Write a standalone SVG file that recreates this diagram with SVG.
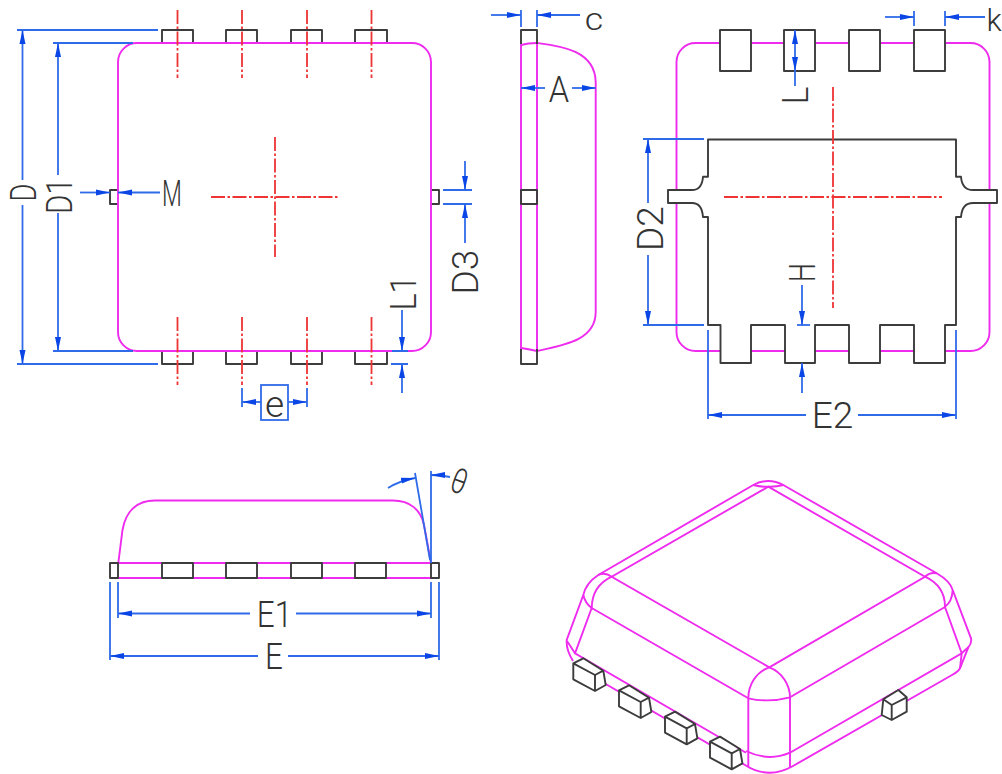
<svg xmlns="http://www.w3.org/2000/svg" xmlns:xlink="http://www.w3.org/1999/xlink" width="1002" height="774" viewBox="0 0 1002 774">
<defs>
<marker id="ah" viewBox="0 0 14 7" refX="14" refY="3.500" markerWidth="14" markerHeight="7" orient="auto-start-reverse" markerUnits="userSpaceOnUse"><path d="M0,0.500 L14,3.500 L0,6.500 Z" fill="#0a46e6"/></marker>
<path id="pad" class="k" d="M573.300,663.300L583.300,658.300L603.300,670.700L605.700,685L595,691L573.300,679.300ZM573.300,663.300L595,675L603.300,670.700M595,675V691"/>
</defs>
<style>
.m{fill:none;stroke:#ee2bee;stroke-width:1.9}
.k{fill:#fff;stroke:#3c3c3c;stroke-width:1.9;stroke-linejoin:round}
.n{fill:none;stroke:#3c3c3c;stroke-width:1.9;stroke-linejoin:round}
.r{fill:none;stroke:#ee3434;stroke-width:1.8;stroke-dasharray:14 2.500 2.500 2.500}
.b{fill:none;stroke:#2f6be8;stroke-width:1.8}
.a{marker-end:url(#ah)}
.t{font-family:Roboto,"Liberation Sans",Arial,sans-serif;font-weight:300;font-size:37px;fill:#333;text-anchor:middle}
.s{font-size:31px}
</style>
<rect width="1002" height="774" fill="#fff"/>
<g id="top-view">
<path class="n" d="M162,43V30H193V43M226,43V30H257V43M291,43V30H322V43M355,43V30H387V43"/>
<path class="n" d="M162,351V364H193V351M226,351V364H257V351M291,351V364H322V351M355,351V364H387V351"/>
<path class="n" d="M118,190H110V204H118M431,190H439V204H431"/>
<rect class="m" x="118" y="43" width="313" height="308" rx="19"/>
<path class="r" d="M177.500,10V78M242,10V78M307,10V78M371.500,10V78M177.500,317V385M242,317V385M307,317V385M371.500,317V385M211,197H338M275,137V257"/>
</g>
<g id="side-view">
<path class="m" d="M521,44V349M537,43V351"/>
<path class="m" d="M521,45Q528,43 537,43C560,46 595,50 595.700,82V312C595.700,340 565,345 537,351Q528,349 521,348"/>
<path class="n" d="M521,44V30H537V44M521,349V364H537V349"/>
<rect class="n" x="521" y="190" width="16" height="14"/>
</g>
<g id="bottom-view">
<rect class="m" x="676.500" y="43" width="313" height="308" rx="19"/>
<path class="k" d="M720,30H751V71H720ZM784,30H815V71H784ZM849,30H880V71H849ZM914,30H945V71H914Z"/>
<path class="k" d="M708,139.500H956V176.700H961Q962,190 973,190H997V203H973Q962,203 961,217H956V325H945V363H914V325H880V363H849V325H815V363H785V325H751V363H720.500V325H708V217H703Q702,203 692,203H668V190H692Q702,190 703,176.700H708Z"/>
<path class="r" d="M724,197H942M833,87V308"/>
</g>
<g id="front-view">
<path class="m" d="M118,563H431M118,578H431"/>
<path class="m" d="M118.300,563L122.500,530C126,510 138,500.500 155,500.500H393C410,500.500 421,510 424,525L431,563"/>
<path class="n" d="M110,563H118V578H110ZM431,563H439V578H431ZM162,563H193V578H162ZM226,563H257V578H226ZM291,563H322V578H291ZM355,563H386V578H355Z"/>
</g>
<g id="iso-view">
<path class="m" d="M768.300,486.700L611.700,576.700L769.300,667.300L925,576.700Z"/>
<path class="m" d="M753.300,485Q768.300,477 783.300,485L936.700,573.300Q950,581 952.700,590L971,638.300Q972,643 968.300,647.300L960,668.300Q958,672 952,675L793,766Q768.300,780 745,765L573,665M753.300,485L598.300,575Q586,583 583.300,595L566.700,640Q566,650 573,661"/>
<path class="m" d="M598.300,575Q605,572 611.700,576.700Q592,586 591.700,608Q585,603 583.300,595M936.700,573.300Q930,572 925,576.700Q945,586 945,606.700Q952,602 952.700,590M753.300,485Q761,487 768.300,486.700Q776,487 783.300,485"/>
<path class="m" d="M591.700,608L748.300,698.300M945,607L790,697.300M591.700,608L575,653.300L746,752.700M945,607L961.700,653.300L790,752.700M961.700,653.300L968.300,647.300M961.700,653.300L960,668.300M575,653.300L567,641"/>
<path class="m" d="M769.300,667.300C756,672 748.300,685 748.300,698.300V767M769.300,667.300C782,672 790,685 790,697.300V767M748.300,698.300Q768.300,703 790,697.300M746,751Q768.300,762 790,752.700"/>
<use xlink:href="#pad" href="#pad"/>
<use xlink:href="#pad" href="#pad" transform="translate(45.700,27)"/>
<use xlink:href="#pad" href="#pad" transform="translate(91.700,53.300)"/>
<use xlink:href="#pad" href="#pad" transform="translate(136.700,78.300)"/>
<path class="k" d="M883.300,699.300L898.300,690L906.700,697.300V711.700L891.700,720L881.700,715ZM883.300,699.300L891.700,705L906.700,697.300M891.700,705V720"/>
</g>
<g id="connectors">
<path class="b" d="M17,30H158M17,364H158M53,43H133M53,351H133"/>
<path class="b a" d="M22.500,180V30"/><path class="b a" d="M22.500,205V364"/>
<path class="b a" d="M58,175V43"/><path class="b a" d="M58,213V351"/>
<path class="b a" d="M80,192.500H110"/><path class="b a" d="M160,192.500H118"/>
<path class="b" d="M443,190H472M443,204H472"/>
<path class="b a" d="M465,161V190"/><path class="b a" d="M465,243V204"/>
<path class="b" d="M392,351H408M391,364H408"/>
<path class="b a" d="M402,310V351"/><path class="b a" d="M402,393V364"/>
<path class="b" d="M242,388V407M307,388V407"/><rect class="b" x="261" y="385" width="27" height="35"/>
<path class="b a" d="M261,402H242"/><path class="b a" d="M288,402H307"/>
<path class="b" d="M521,10V27M537,10V27"/>
<path class="b a" d="M491,15H521"/><path class="b a" d="M580,15H537"/>
<path class="b a" d="M545,88H521"/><path class="b a" d="M572,88H595.700"/>
<path class="b" d="M914,11V26M945,11V26"/>
<path class="b a" d="M885,17H914"/><path class="b a" d="M985,17H945"/>
<path class="b a" d="M795,50V30"/><path class="b a" d="M795,50V71"/><path class="b" d="M795,71V86"/>
<path class="b" d="M643,139H704M643,325H704"/>
<path class="b a" d="M648,203V139"/><path class="b a" d="M648,255V325"/>
<path class="b" d="M797,325H810"/>
<path class="b a" d="M802,285V325"/><path class="b a" d="M802,393V363"/>
<path class="b" d="M708,330V419M956,330V419"/>
<path class="b a" d="M806,415H708"/><path class="b a" d="M858,415H956"/>
<path class="b" d="M118,582V618M431,582V618M110,582V660M439,582V660"/>
<path class="b a" d="M250,613.500H118"/><path class="b a" d="M296,613.500H431"/>
<path class="b a" d="M258,656H110"/><path class="b a" d="M288,656H439"/>
<path class="b" d="M415,473L430,560M431,471V563"/>
<path class="b a" d="M388,488Q399,481 415,478"/><path class="b a" d="M450,477Q441,475 431,475"/>
</g>
<g id="labels">
<text class="t" transform="translate(36,192.500) rotate(-90) scale(.74,1)">D</text>
<text class="t" transform="translate(72,196) rotate(-90) scale(.8,1)">D1</text>
<text class="t" transform="translate(172,206) scale(.62,1)">M</text>
<text class="t" transform="translate(478,272) rotate(-90)">D3</text>
<text class="t" transform="translate(416,293) rotate(-90) scale(.88,1)">L1</text>
<text class="t" transform="translate(274.500,417)">e</text>
<text class="t s" transform="translate(594,29.500) scale(1.15,1)">c</text>
<text class="t" transform="translate(559,102) scale(.88,1)">A</text>
<text class="t s" transform="translate(994,31)">k</text>
<text class="t" transform="translate(808,95.500) rotate(-90) scale(.9,1)">L</text>
<text class="t" transform="translate(663,228.500) rotate(-90)">D2</text>
<text class="t" transform="translate(815,272.500) rotate(-90) scale(.72,1)">H</text>
<text class="t" transform="translate(832.500,428)">E2</text>
<text class="t" transform="translate(274.500,627) scale(.85,1)">E1</text>
<text class="t" transform="translate(274,669) scale(.85,1)">E</text>
<text class="t" transform="translate(459.500,481) rotate(20) scale(.72,.95) translate(0,13)">θ</text>
</g>
</svg>
